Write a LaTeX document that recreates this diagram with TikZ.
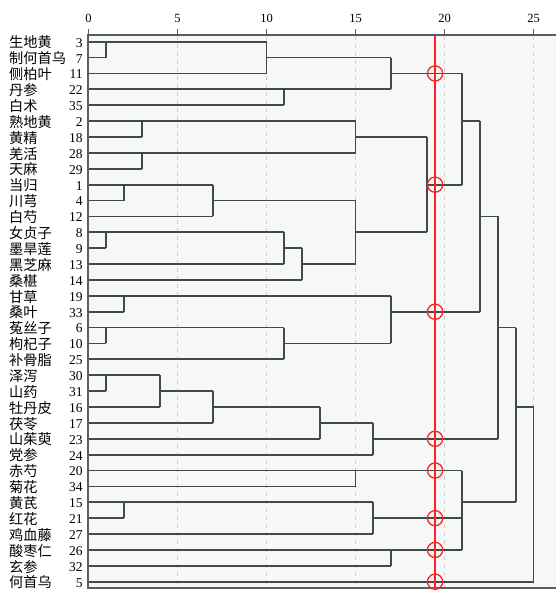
\documentclass[tikz,border=0pt]{standalone}
\usepackage{fontspec}
\setmainfont{Liberation Serif}
\newfontfamily\cjk{Noto Sans CJK SC}
\definecolor{bgc}{HTML}{F6F7F7}
\definecolor{lnc}{HTML}{434949}
\definecolor{gridc}{HTML}{CDCDCD}
\definecolor{framec}{HTML}{5A5E5E}
\definecolor{cutc}{HTML}{FF2222}
\begin{document}
\begin{tikzpicture}[x=1pt,y=-1pt,
  tree/.style={draw=lnc,line width=1.8pt},
  gridline/.style={draw=gridc,line width=0.9pt,dash pattern=on 4pt off 4pt},
  namelab/.style={anchor=west,inner sep=0pt,font=\cjk\fontsize{14.2}{15}\selectfont},
  numlab/.style={anchor=east,inner sep=0pt,font=\fontsize{13.5}{14}\selectfont},
  axislab/.style={inner sep=0pt,font=\fontsize{12.5}{13}\selectfont},
  cutline/.style={draw=cutc,line width=1.5pt},
  cutmark/.style={draw=cutc,line width=1.3pt}]
\useasboundingbox (0,0) rectangle (556,590);
% plot background
\fill[bgc] (88,35) rectangle (556,588);
% grid and axis
\foreach \v in {5,10,15,20,25}
  \draw[gridline] ({88.5+17.8*\v},36) -- ({88.5+17.8*\v},588);
\foreach \v in {0,5,10,15,20,25}{
  \draw[framec,line width=1pt] ({88.5+17.8*\v},29) -- ({88.5+17.8*\v},35);
  \node[axislab] (ax\v) at ({88.5+17.8*\v},18) {\v};
}
\draw[framec,line width=1.2pt] (556,35) -- (88,35) -- (88,588) -- (556,588);
% labels
\foreach \nm/\nu [count=\i] in {生地黄/3,制何首乌/7,侧柏叶/11,丹参/22,白术/35,熟地黄/2,黄精/18,羌活/28,天麻/29,当归/1,川芎/4,白芍/12,女贞子/8,墨旱莲/9,黑芝麻/13,桑椹/14,甘草/19,桑叶/33,菟丝子/6,枸杞子/10,补骨脂/25,泽泻/30,山药/31,牡丹皮/16,茯苓/17,山茱萸/23,党参/24,赤芍/20,菊花/34,黄芪/15,红花/21,鸡血藤/27,酸枣仁/26,玄参/32,何首乌/5}{
  \node[namelab] (nm\i) at (9,{41.7+15.882*(\i-1)+0.8}) {\nm};
  \node[numlab] (nu\i) at (82.8,{41.7+15.882*(\i-1)+1}) {\nu};
}
% dendrogram
\begin{scope}[shift={(88.5pt,-25.818pt)},x=17.8pt,y=-15.882pt]
  % leaf lines: row/end
  \foreach \r/\e in {1/1,2/1,3/10,4/11,5/11,6/3,7/3,8/3,9/3,10/2,11/2,12/7,13/1,14/1,15/11,16/12,17/2,18/2,19/1,20/1,21/11,22/1,23/1,24/4,25/7,26/13,27/16,28/15,29/15,30/2,31/2,32/16,33/17,34/17,35/25}
    \draw[tree] (0,\r) -- (\e,\r);
  % brackets: d/top/bottom/out/parent
  \foreach \d/\t/\b/\o/\p in {1/1/2/1/10,10/1/3/2/17,11/4/5/4/17,17/2/4/3/21,3/6/7/6/15,3/8/9/8/15,15/6/8/7/19,2/10/11/10/7,7/10/12/11/15,1/13/14/13/11,11/13/15/14/12,12/14/16/15/15,15/11/15/13/19,19/7/13/10/21,21/3/10/6/22,2/17/18/17/17,1/19/20/19/11,11/19/21/20/17,17/17/20/18/22,22/6/18/12/23,1/22/23/22/4,4/22/24/23/7,7/23/25/24/13,13/24/26/25/16,16/25/27/26/23,23/12/26/19/24,15/28/29/28/21,2/30/31/30/16,16/30/32/31/21,17/33/34/33/21,21/28/33/30/24,24/19/30/24/25}{
    \draw[tree] (\d,\t) -- (\d,\b);
    \draw[tree] (\d,\o) -- (\p,\o);
  }
  \draw[tree] (25,24) -- (25,35);
  % cut line
  \coordinate (cuttop) at (19.47,0.64);
  \coordinate (cutbot) at (19.47,36.2);
  \draw[cutline] (cuttop) -- (cutbot);
  \foreach \r in {3,10,18,26,28,31,33,35}
    \draw[cutmark] (19.47,\r) circle[radius=7.6pt];
\end{scope}
\end{tikzpicture}
\end{document}
